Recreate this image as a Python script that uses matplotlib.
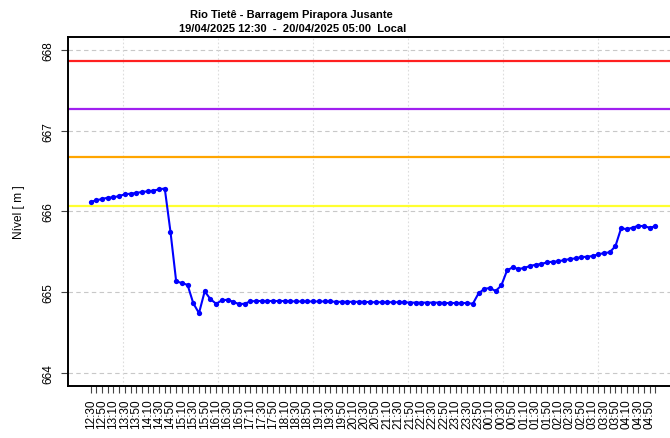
import numpy as np
import pandas as pd
import matplotlib
matplotlib.use("Agg")
import matplotlib.pyplot as plt

plt.rcParams['font.family'] = ['Liberation Sans', 'DejaVu Sans']

# 10-minute readings, 19/04 12:30 -> 20/04 05:00
times = pd.date_range("2025-04-19 12:30", "2025-04-20 05:00", freq="10min")
tick_labels = [t.strftime("%H:%M") for t in times]

nivel = [
    666.118, 666.139, 666.155, 666.171, 666.176, 666.192, 666.213, 666.221, 666.230, 666.242,
    666.250, 666.258, 666.275, 666.285, 665.750, 665.134, 665.113, 665.090, 664.862, 664.740,
    665.010, 664.914, 664.856, 664.898, 664.906, 664.880, 664.852, 664.856, 664.886, 664.890,
    664.890, 664.890, 664.890, 664.890, 664.890, 664.888, 664.885, 664.885, 664.885, 664.885,
    664.885, 664.885, 664.885, 664.880, 664.880, 664.880, 664.880, 664.880, 664.880, 664.875,
    664.875, 664.875, 664.875, 664.875, 664.875, 664.875, 664.870, 664.870, 664.870, 664.870,
    664.870, 664.870, 664.865, 664.865, 664.865, 664.865, 664.865, 664.856, 664.985, 665.040,
    665.052, 665.014, 665.084, 665.270, 665.308, 665.287, 665.300, 665.324, 665.340, 665.349,
    665.370, 665.377, 665.382, 665.398, 665.410, 665.419, 665.435, 665.439, 665.448, 665.469,
    665.485, 665.494, 665.572, 665.795, 665.779, 665.800, 665.824, 665.816, 665.800, 665.816,
]

# reference levels
ref_levels = [667.86, 667.27, 666.67, 666.07]
ref_colors = ['#ff2020', '#a020f0', '#ffa500', '#ffff30']

y_ticks = [664, 665, 666, 667, 668]

x = np.arange(len(nivel))

fig = plt.figure(figsize=(6.7, 4.39), dpi=100)
# right edge of the plot box falls just outside the picture
ax = fig.add_axes([68 / 670, 52.3 / 439, 610 / 670, 348.4 / 439])

n = len(nivel) - 1
pad_x = 0.04 * n
ax.set_xlim(-pad_x, n + pad_x)
ax.set_ylim(664 - 0.16, 668 + 0.16)

# grid
for yt in y_ticks:
    ax.axhline(yt, color='#c8c8c8', lw=0.8, ls=(0, (4, 3)), zorder=0)
for gx in [5.71, 22.36, 39.0, 55.65, 72.3, 88.95, 105.6]:
    ax.axvline(gx, color='#dddddd', lw=0.8, ls=(0, (1.5, 2)), zorder=0)

for lvl, col in zip(ref_levels, ref_colors):
    ax.axhline(lvl, color=col, lw=1.6, zorder=2)

ax.plot(x, nivel, color='#0000ff', lw=1.5, marker='o', markersize=3.8,
        markeredgewidth=0, zorder=3)

ax.set_xticks(x)
ax.set_xticklabels([lab if i % 2 == 0 else '' for i, lab in enumerate(tick_labels)],
                   rotation=90, fontsize=8.5)
ax.tick_params(axis='x', length=5, width=0.8, color='#444444', pad=4)

ax.set_yticks(y_ticks)
ax.set_yticklabels([str(v) for v in y_ticks], rotation=90, va='center', fontsize=8.5)
ax.tick_params(axis='y', length=5, width=0.8, color='#444444', pad=5)

for sp in ax.spines.values():
    sp.set_linewidth(1.4)
    sp.set_color('black')

ax.set_ylabel("Nível [ m ]", fontsize=8.6, labelpad=12)

fig.text(291 / 670, 1 - 15 / 439, "Rio Tietê - Barragem Pirapora Jusante",
         ha='center', va='center', fontsize=8, fontweight='bold')
fig.text(293 / 670, 1 - 29.5 / 439, "19/04/2025 12:30  -  20/04/2025 05:00  Local",
         ha='center', va='center', fontsize=8, fontweight='bold')

fig.savefig("out.png", dpi=100)
